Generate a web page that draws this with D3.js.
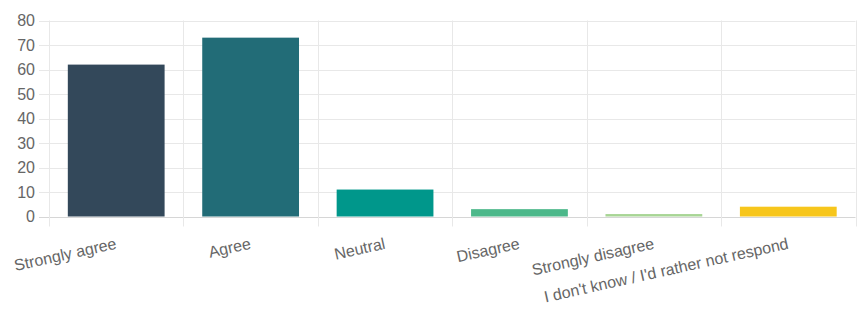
<!DOCTYPE html>
<html>
<head>
<meta charset="utf-8">
<style>
  body { margin: 0; background: #fff; }
  svg { display: block; font-family: "Liberation Sans", Arial, Helvetica, sans-serif; }
</style>
</head>
<body>
<svg width="866" height="318"></svg>
<script src="https://cdn.jsdelivr.net/npm/d3@7"></script>
<script>

  // data
  var categories = ["Strongly agree", "Agree", "Neutral", "Disagree", "Strongly disagree", "I don't know / I'd rather not respond"];
  var values = [62, 73, 11, 3, 1, 4];
  var colors = ["#33485a", "#226c77", "#00978b", "#4cb88a", "#a8d595", "#f7c61c"];
  var yTicks = [0, 10, 20, 30, 40, 50, 60, 70, 80];

  var svg = d3.select("svg"),
      plotLeft = 49, plotRight = 855.5, plotTop = 20.5, plotBottom = 216.5,
      tickLen = 10;

  var x = d3.scaleBand()
      .domain(categories)
      .range([plotLeft, plotRight])
      .padding(0);

  var y = d3.scaleLinear()
      .domain([0, 80])
      .range([plotBottom, plotTop]);

  // horizontal grid + y ticks
  var gy = svg.append("g");
  gy.selectAll("line")
    .data(yTicks)
    .enter().append("line")
      .attr("x1", plotLeft - tickLen)
      .attr("x2", plotRight)
      .attr("y1", function(d) { return Math.round(y(d)) + 0.5; })
      .attr("y2", function(d) { return Math.round(y(d)) + 0.5; })
      .attr("stroke", function(d) { return d === 0 ? "#d6d6d6" : "#e8e8e8"; })
      .attr("stroke-width", 1);

  gy.selectAll("text")
    .data(yTicks)
    .enter().append("text")
      .attr("x", plotLeft - tickLen - 4)
      .attr("y", function(d) { return y(d); })
      .attr("dy", "0.35em")
      .attr("text-anchor", "end")
      .attr("font-size", 16)
      .attr("fill", "#666")
      .text(function(d) { return d; });

  // vertical grid lines at band edges
  var edges = categories.map(function(c) { return x(c); }).concat([x.range()[1]]);
  svg.append("g").selectAll("line")
    .data(edges)
    .enter().append("line")
      .attr("x1", function(d) { return Math.round(d) + 0.5; })
      .attr("x2", function(d) { return Math.round(d) + 0.5; })
      .attr("y1", plotTop)
      .attr("y2", plotBottom + tickLen)
      .attr("stroke", "#e8e8e8");

  // bars
  var bw = x.bandwidth();
  svg.append("g").selectAll("rect")
    .data(values)
    .enter().append("rect")
      .attr("x", function(d, i) { return x(categories[i]) + bw * 0.14; })
      .attr("y", function(d) { return y(d); })
      .attr("width", bw * 0.72)
      .attr("height", function(d) { return y(0) - y(d); })
      .attr("fill", function(d, i) { return colors[i]; });

  // rotated x labels
  svg.append("g").selectAll("text")
    .data(categories)
    .enter().append("text")
      .attr("transform", function(d) {
        return "translate(" + (x(d) + bw / 2 + 1) + "," + (plotBottom + 32) + ") rotate(-12.5)";
      })
      .attr("text-anchor", "end")
      .attr("font-size", 16)
      .attr("fill", "#666")
      .text(function(d) { return d; });

</script>
</body>
</html>
